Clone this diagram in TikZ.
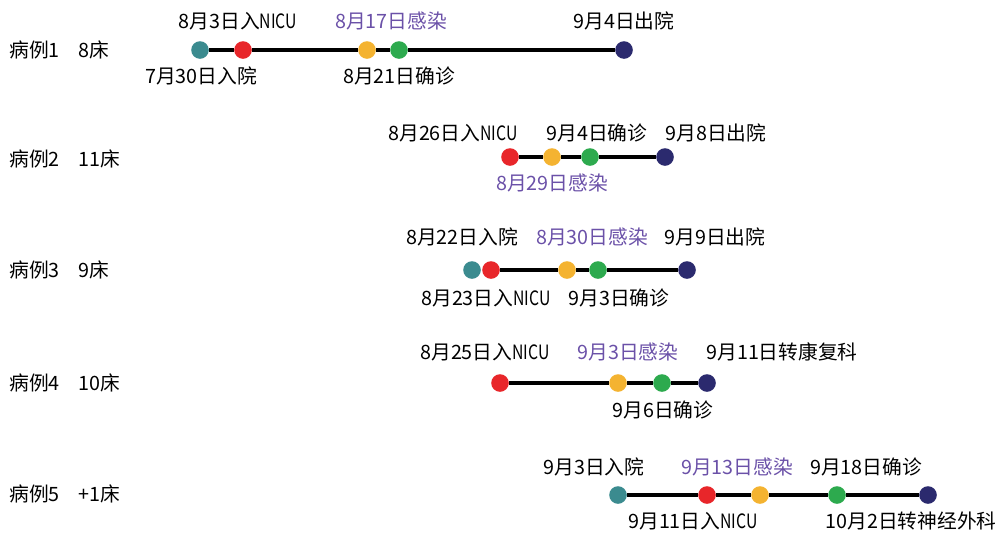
\documentclass[tikz,border=0pt]{standalone}
\usepackage{fontspec}
\setmainfont{Noto Sans CJK SC}
\definecolor{cteal}{HTML}{3B8B8F}
\definecolor{cred}{HTML}{E8262A}
\definecolor{cyel}{HTML}{F4B331}
\definecolor{cgreen}{HTML}{2DAA4E}
\definecolor{cnavy}{HTML}{2B2A6E}
\definecolor{cpurp}{HTML}{6B51A8}
\newcommand\myNICU{\scalebox{0.8}[1]{NICU}}
\begin{document}
\begin{tikzpicture}[x=0.75pt,y=-0.75pt,
  every node/.style={font=\fontsize{14.8pt}{16pt}\selectfont, inner sep=0pt},
  dot/.style={circle, minimum size=13.2pt, inner sep=0pt},
  dteal/.style={dot, fill=cteal},
  dred/.style={dot, fill=cred},
  dyel/.style={dot, fill=cyel},
  dgreen/.style={dot, fill=cgreen},
  dnavy/.style={dot, fill=cnavy},
  tline/.style={line width=2.6pt, black},
  lab/.style={text=black},
  inf/.style={text=cpurp},
  rowlab/.style={anchor=west}]
\useasboundingbox (0,0) rectangle (998,533);

% Row 1
\node[rowlab] (r1a) at (9,50) {病例1};
\node[rowlab] (r1b) at (78,50) {8床};
\node[dteal] (a1) at (200,50) {};
\node[dred] (a2) at (243,50) {};
\node[dyel] (a3) at (367,50) {};
\node[dgreen] (a4) at (399,50) {};
\node[dnavy] (a5) at (624,50) {};
\draw[tline] (a1) -- (a2) -- (a3) -- (a4) -- (a5);
\node[lab] (t11) at (238,21) {8月3日入\myNICU};
\node[inf] (t12) at (391,21) {8月17日感染};
\node[lab] (t13) at (624,21) {9月4日出院};
\node[lab] (t14) at (201,76) {7月30日入院};
\node[lab] (t15) at (399,76) {8月21日确诊};

% Row 2
\node[rowlab] (r2a) at (9,159) {病例2};
\node[rowlab] (r2b) at (78,159) {11床};
\node[dred] (b1) at (510,157) {};
\node[dyel] (b2) at (552,157) {};
\node[dgreen] (b3) at (590,157) {};
\node[dnavy] (b4) at (665,157) {};
\draw[tline] (b1) -- (b2) -- (b3) -- (b4);
\node[lab] (t21) at (453,133) {8月26日入\myNICU};
\node[lab] (t22) at (597,133) {9月4日确诊};
\node[lab] (t23) at (716,133) {9月8日出院};
\node[inf] (t24) at (552,183) {8月29日感染};

% Row 3
\node[rowlab] (r3a) at (9,270) {病例3};
\node[rowlab] (r3b) at (78,270) {9床};
\node[dteal] (c1) at (472,270) {};
\node[dred] (c2) at (491,270) {};
\node[dyel] (c3) at (567,270) {};
\node[dgreen] (c4) at (598,270) {};
\node[dnavy] (c5) at (687,270) {};
\draw[tline] (c2) -- (c3) -- (c4) -- (c5);
\node[lab] (t31) at (462,237) {8月22日入院};
\node[inf] (t32) at (592,237) {8月30日感染};
\node[lab] (t33) at (715,237) {9月9日出院};
\node[lab] (t34) at (486,298) {8月23日入\myNICU};
\node[lab] (t35) at (619,298) {9月3日确诊};

% Row 4
\node[rowlab] (r4a) at (9,383) {病例4};
\node[rowlab] (r4b) at (78,383) {10床};
\node[dred] (d1) at (500,383) {};
\node[dyel] (d2) at (618,383) {};
\node[dgreen] (d3) at (662,383) {};
\node[dnavy] (d4) at (707,383) {};
\draw[tline] (d1) -- (d2) -- (d3) -- (d4);
\node[lab] (t41) at (485,352) {8月25日入\myNICU};
\node[inf] (t42) at (628,352) {9月3日感染};
\node[lab] (t43) at (782,352) {9月11日转康复科};
\node[lab] (t44) at (663,410) {9月6日确诊};

% Row 5
\node[rowlab] (r5a) at (9,494) {病例5};
\node[rowlab] (r5b) at (78,494) {+1床};
\node[dteal] (e1) at (618,495) {};
\node[dred] (e2) at (707,495) {};
\node[dyel] (e3) at (760,495) {};
\node[dgreen] (e4) at (837,495) {};
\node[dnavy] (e5) at (928,495) {};
\draw[tline] (e1) -- (e2) -- (e3) -- (e4) -- (e5);
\node[lab] (t51) at (594,467) {9月3日入院};
\node[inf] (t52) at (737,467) {9月13日感染};
\node[lab] (t53) at (866,467) {9月18日确诊};
\node[lab] (t54) at (693,521) {9月11日入\myNICU};
\node[lab] (t55) at (911,521) {10月2日转神经外科};
\end{tikzpicture}
\end{document}
